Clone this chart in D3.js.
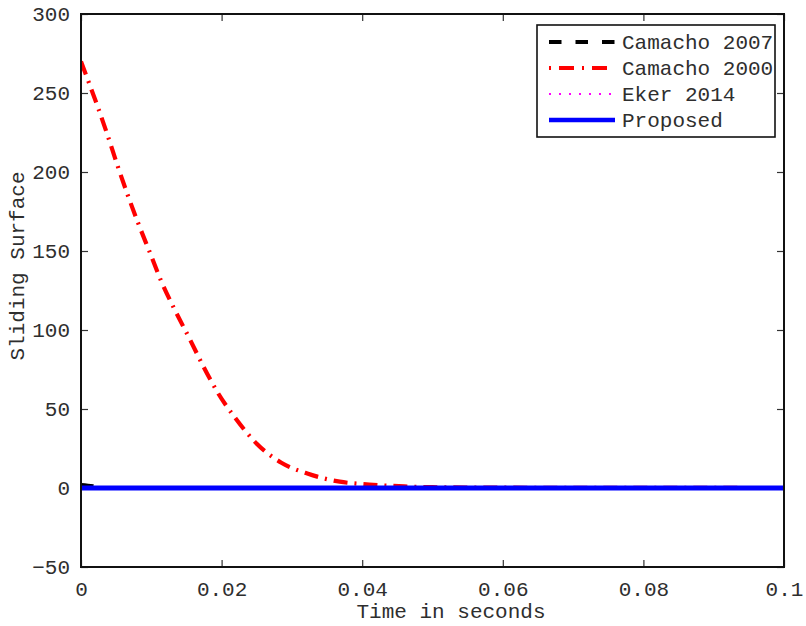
<!DOCTYPE html>
<html>
<head>
<meta charset="utf-8">
<script src="https://cdn.jsdelivr.net/npm/d3@7"></script>
<style>
  html, body { margin: 0; padding: 0; background: #fff; }
  svg { display: block; }
  text { font-family: "Liberation Mono", "Courier New", monospace; }
</style>
</head>
<body>
<svg id="chart" width="806" height="626"></svg>
<script>
// Sliding surface trajectories over time (seconds)
const camacho2007T = [0, 0.0017, 0.003, 0.1];
const camacho2007S = [2, 1.2, 0, 0];

const camacho2000T = [0, 0.001, 0.0024, 0.0038, 0.0052, 0.0066, 0.0081, 0.0098, 0.0114, 0.0132,
                      0.0155, 0.0174, 0.0195, 0.022, 0.025, 0.0285, 0.0323, 0.0368, 0.041, 0.046,
                      0.05, 0.06, 0.1];
const camacho2000S = [270, 258, 241, 223, 204, 186, 168, 149, 131, 114,
                      94, 77, 60, 44, 28, 16, 9, 4, 2.2, 1,
                      0.5, 0.2, 0];

const eker2014T = [0, 0.1];
const eker2014S = [0, 0];

const proposedT = [0, 0.1];
const proposedS = [0, 0];

const seriesNames = ["Camacho 2007", "Camacho 2000", "Eker 2014", "Proposed"];
const xTicks = [0, 0.02, 0.04, 0.06, 0.08, 0.1];
const xTickLabels = ["0", "0.02", "0.04", "0.06", "0.08", "0.1"];
const yTicks = [-50, 0, 50, 100, 150, 200, 250, 300];
const yTickLabels = ["\u221250", "0", "50", "100", "150", "200", "250", "300"];

const svg = d3.select("#chart");
const L = 81, R = 784, T = 14, B = 567;
const textColor = "#2e2e2e";

const x = d3.scaleLinear().domain([0, 0.1]).range([L, R]);
const y = d3.scaleLinear().domain([-50, 300]).range([B, T]);

const styles = [
  { color: "#000000", width: 3.8, dash: "12.5,14" },
  { color: "#ff0000", width: 4.2, dash: "14,7,2,7" },
  { color: "#ff00ff", width: 2.2, dash: "2,8" },
  { color: "#0000ff", width: 4.8, dash: null }
];
const series = [
  { t: camacho2007T, s: camacho2007S },
  { t: camacho2000T, s: camacho2000S },
  { t: eker2014T, s: eker2014S },
  { t: proposedT, s: proposedS }
];

svg.append("defs").append("clipPath").attr("id", "plotClip")
  .append("rect").attr("x", L).attr("y", T).attr("width", R - L).attr("height", B - T);

// Ticks (inward, on all four sides)
const tickLen = 7;
const tickColor = "#333";
const axisG = svg.append("g");
const xAxisB = d3.axisBottom(x).tickValues(xTicks).tickSizeInner(-tickLen).tickSizeOuter(0)
  .tickFormat((d, i) => xTickLabels[i]).tickPadding(14);
const xAxisT = d3.axisTop(x).tickValues(xTicks).tickSizeInner(-tickLen).tickSizeOuter(0).tickFormat("");
const yAxisL = d3.axisLeft(y).tickValues(yTicks).tickSizeInner(-tickLen).tickSizeOuter(0)
  .tickFormat((d, i) => yTickLabels[i]).tickPadding(11);
const yAxisR = d3.axisRight(y).tickValues(yTicks).tickSizeInner(-tickLen).tickSizeOuter(0).tickFormat("");

function styleAxis(g) {
  g.select(".domain").remove();
  g.selectAll(".tick line").attr("stroke", tickColor).attr("stroke-width", 1.2);
  g.selectAll(".tick text").attr("fill", textColor).attr("font-size", 21)
    .attr("font-family", "'Liberation Mono', 'Courier New', monospace");
}
axisG.append("g").attr("transform", `translate(0,${B})`).call(xAxisB).call(styleAxis);
axisG.append("g").attr("transform", `translate(0,${T})`).call(xAxisT).call(styleAxis);
axisG.append("g").attr("transform", `translate(${L},0)`).call(yAxisL).call(styleAxis);
axisG.append("g").attr("transform", `translate(${R},0)`).call(yAxisR).call(styleAxis);

// Data lines
const lineGen = d3.line().x(d => x(d[0])).y(d => y(d[1])).curve(d3.curveMonotoneX);
const linesG = svg.append("g").attr("clip-path", "url(#plotClip)");
series.forEach((sr, i) => {
  const pts = sr.t.map((t, k) => [t, sr.s[k]]);
  linesG.append("path")
    .attr("d", lineGen(pts))
    .attr("fill", "none")
    .attr("stroke", styles[i].color)
    .attr("stroke-width", styles[i].width)
    .attr("stroke-dasharray", styles[i].dash)
    .attr("stroke-linecap", "butt");
});

// Plot frame
svg.append("rect").attr("x", L).attr("y", T).attr("width", R - L).attr("height", B - T)
  .attr("fill", "none").attr("stroke", "#111").attr("stroke-width", 2);

// Legend
const lg = svg.append("g");
lg.append("rect").attr("x", 537).attr("y", 25).attr("width", 238).attr("height", 112)
  .attr("fill", "#fff").attr("stroke", "#111").attr("stroke-width", 1.6);
seriesNames.forEach((name, i) => {
  const ly = 42 + i * 26;
  lg.append("line").attr("x1", 549).attr("x2", 615).attr("y1", ly).attr("y2", ly)
    .attr("stroke", styles[i].color)
    .attr("stroke-width", i === 3 ? 4.5 : styles[i].width)
    .attr("stroke-dasharray", i === 1 ? "2,8,15,8" : styles[i].dash);
  lg.append("text").attr("x", 622).attr("y", ly + 6.5).attr("font-size", 21)
    .attr("fill", textColor).text(name);
});

// Axis titles
svg.append("text").attr("x", 451).attr("y", 618).attr("text-anchor", "middle")
  .attr("font-size", 21).attr("fill", textColor).text("Time in seconds");
svg.append("text").attr("transform", "translate(24,266) rotate(-90)")
  .attr("text-anchor", "middle").attr("font-size", 21).attr("fill", textColor).text("Sliding Surface");
</script>
</body>
</html>
